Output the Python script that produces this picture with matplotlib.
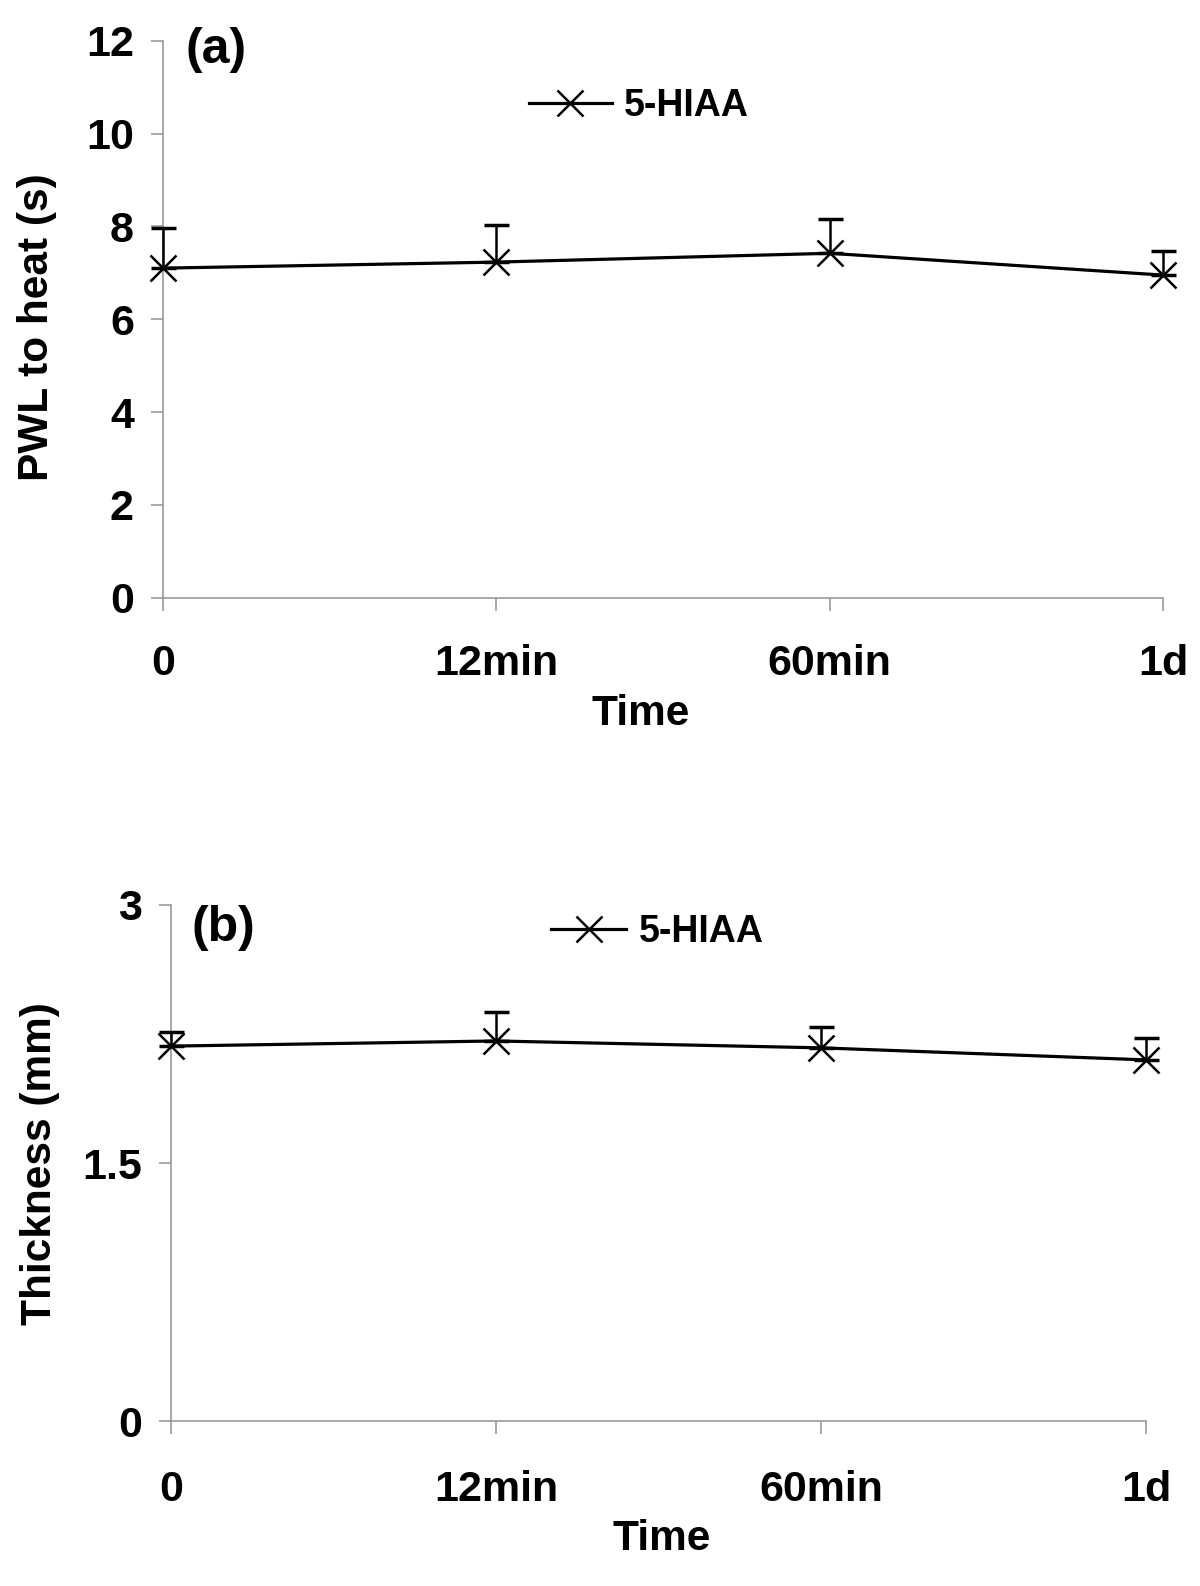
import matplotlib
matplotlib.use("Agg")
import matplotlib.pyplot as plt

plt.rcParams['font.family'] = ['Liberation Sans', 'DejaVu Sans']
plt.rcParams['font.weight'] = 'bold'

times = ['0', '12min', '60min', '1d']
series_name = '5-HIAA'

# (a) paw withdrawal latency to heat
pwl_mean = [7.10, 7.23, 7.42, 6.95]
pwl_err = [0.86, 0.81, 0.73, 0.52]

# (b) paw thickness
thick_mean = [2.18, 2.21, 2.17, 2.10]
thick_err = [0.08, 0.17, 0.12, 0.13]

gray = '#9a9a9a'
W, H = 1200, 1586
fig = plt.figure(figsize=(W / 100, H / 100), dpi=100)

def panel(rect, mean, err, yticks, ylim, ylabel, tag, tagpos, legpos, ylab_pos, xlab_pos, leglen, xpad):
    ax = fig.add_axes(rect)
    x = list(range(len(times)))
    ax.errorbar(x, mean, yerr=[[0] * len(err), err], fmt='none', ecolor='black',
                elinewidth=1.8, capsize=9, capthick=2.5, clip_on=False, zorder=3)
    ax.plot(x, mean, color='black', linewidth=2.3, marker='x', markersize=19,
            markeredgewidth=1.8, label=series_name, clip_on=False, zorder=4)
    ax.set_xlim(0, len(times) - 1)
    ax.set_ylim(*ylim)
    ax.set_xticks(x)
    ax.set_xticklabels(times)
    ax.set_yticks(yticks[0])
    ax.set_yticklabels(yticks[1])
    for s in ['top', 'right']:
        ax.spines[s].set_visible(False)
    for s in ['left', 'bottom']:
        ax.spines[s].set_color(gray)
        ax.spines[s].set_linewidth(1.2)
    ax.tick_params(axis='y', direction='out', length=9, width=1.2, color=gray,
                   labelsize=31, pad=12)
    ax.tick_params(axis='x', direction='out', length=9, width=1.2, color=gray,
                   labelsize=31, pad=xpad)
    ax.set_ylabel(ylabel, fontsize=30.5, fontweight='bold', va='center')
    ax.yaxis.set_label_coords(*ylab_pos)
    ax.set_xlabel('Time', fontsize=30.5, fontweight='bold', va='center')
    ax.xaxis.set_label_coords(*xlab_pos)
    ax.text(tagpos[0], tagpos[1], tag, transform=ax.transAxes, fontsize=36,
            fontweight='bold', ha='left', va='center')
    ax.legend(loc='center left', bbox_to_anchor=legpos, frameon=False,
              handlelength=leglen, handletextpad=0.33,
              borderpad=0, borderaxespad=0, prop={'weight': 'bold', 'size': 27})
    return ax

panel([163 / W, 1 - 597.7 / H, 1000 / W, 557 / H], pwl_mean, pwl_err,
      ([0, 2, 4, 6, 8, 10, 12], ['0', '2', '4', '6', '8', '10', '12']), (0, 12),
      'PWL to heat (s)', '(a)', (0.022, 0.983), (0.366, 0.883),
      (-0.126, 0.485), (0.478, -0.209), 2.2, 24)

panel([171 / W, 1 - 1421.3 / H, 975 / W, 516.3 / H], thick_mean, thick_err,
      ([0, 1.5, 3], ['0', '1.5', '3']), (0, 3),
      'Thickness (mm)', '(b)', (0.0215, 0.955), (0.39, 0.948),
      (-0.134, 0.5), (0.503, -0.228), 2.0, 26)

fig.savefig('out.png', dpi=100)
